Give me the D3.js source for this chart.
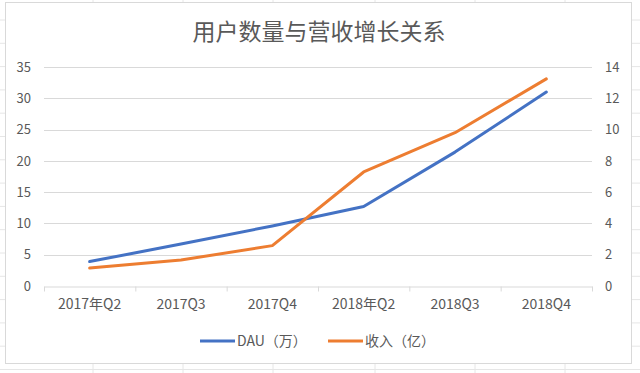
<!DOCTYPE html>
<html>
<head>
<meta charset="utf-8">
<script src="https://cdn.jsdelivr.net/npm/d3@7"></script>
<style>
  body { margin: 0; background: #fff; }
  text { font-family: "Noto Sans CJK SC", "Noto Sans", sans-serif; fill: #595959; }
</style>
</head>
<body>
<div id="chart"></div>
<script>
const width = 640;
const height = 373;

// data
const quarters = ["2017年Q2", "2017Q3", "2017Q4", "2018年Q2", "2018Q3", "2018Q4"];
const dau = [3.9, 6.7, 9.6, 12.7, 21.4, 31.0];
const revenue = [1.15, 1.66, 2.58, 7.29, 9.8, 13.24];
const leftTicks = [0, 5, 10, 15, 20, 25, 30, 35];
const rightTicks = [0, 2, 4, 6, 8, 10, 12, 14];
const seriesNames = ["DAU（万）", "收入（亿）"];
const colors = ["#4472C4", "#ED7D31"];

const margin = {top: 67, right: 48, bottom: 87, left: 44};

var svg = d3.select("#chart")
    .append("svg")
    .attr("width", width)
    .attr("height", height)

// spreadsheet grid behind the chart
const sheetCols = [93, 183, 273, 375, 475, 565];
const sheetRows = d3.range(20, height, 23.3);
svg.append("g")
    .selectAll("line.col")
    .data(sheetCols)
    .join("line")
    .attr("x1", d => d).attr("x2", d => d)
    .attr("y1", 0).attr("y2", height)
    .attr("stroke", "#e6e6e6");
svg.append("g")
    .selectAll("line.row")
    .data(sheetRows)
    .join("line")
    .attr("x1", 0).attr("x2", width)
    .attr("y1", d => d).attr("y2", d => d)
    .attr("stroke", "#e6e6e6");

// chart area
svg.append("rect")
    .attr("x", 5.5).attr("y", 2.5)
    .attr("width", 626).attr("height", 361)
    .attr("fill", "#fff")
    .attr("stroke", "#d9d9d9");

const x = d3.scaleBand()
    .domain(quarters)
    .range([margin.left, width - margin.right]);

const yLeft = d3.scaleLinear()
    .domain([0, 35])
    .range([height - margin.bottom, margin.top]);

const yRight = d3.scaleLinear()
    .domain([0, 14])
    .range([height - margin.bottom, margin.top]);

// gridlines
svg.append("g")
    .selectAll("line")
    .data(leftTicks.slice(1))
    .join("line")
    .attr("x1", margin.left).attr("x2", width - margin.right)
    .attr("y1", d => Math.round(yLeft(d)) + 0.5)
    .attr("y2", d => Math.round(yLeft(d)) + 0.5)
    .attr("stroke", "#d9d9d9");

// x axis
const xAxis = svg.append("g")
    .attr("transform", `translate(0,${Math.round(yLeft(0)) + 0.5})`)
    .call(d3.axisBottom(x).tickSize(0).tickPadding(13));
xAxis.select(".domain").attr("stroke", "#d9d9d9");
xAxis.selectAll("text").style("font-size", "14px").attr("fill", "#595959");
xAxis.selectAll("line.sep")
    .data(d3.range(quarters.length + 1))
    .join("line")
    .attr("class", "sep")
    .attr("x1", i => margin.left + i * x.step() + 0.5)
    .attr("x2", i => margin.left + i * x.step() + 0.5)
    .attr("y1", 0).attr("y2", 5)
    .attr("stroke", "#d9d9d9");

// y axes
const leftAxis = svg.append("g")
    .attr("transform", `translate(${margin.left - 13},0)`)
    .call(d3.axisLeft(yLeft).tickValues(leftTicks).tickSize(0).tickPadding(0));
leftAxis.select(".domain").remove();
leftAxis.selectAll("text").style("font-size", "13px").attr("fill", "#595959");

const rightAxis = svg.append("g")
    .attr("transform", `translate(${width - margin.right + 13},0)`)
    .call(d3.axisRight(yRight).tickValues(rightTicks).tickSize(0).tickPadding(0));
rightAxis.select(".domain").remove();
rightAxis.selectAll("text").style("font-size", "13px").attr("fill", "#595959");

// lines
const cx = d => x(d) + x.bandwidth() / 2;
const dauLine = d3.line()
    .x((d, i) => cx(quarters[i]))
    .y(d => yLeft(d));
const revLine = d3.line()
    .x((d, i) => cx(quarters[i]))
    .y(d => yRight(d));

svg.append("path")
    .datum(dau)
    .attr("d", dauLine)
    .attr("fill", "none")
    .attr("stroke", colors[0])
    .attr("stroke-width", 3)
    .attr("stroke-linejoin", "round")
    .attr("stroke-linecap", "round");

svg.append("path")
    .datum(revenue)
    .attr("d", revLine)
    .attr("fill", "none")
    .attr("stroke", colors[1])
    .attr("stroke-width", 3)
    .attr("stroke-linejoin", "round")
    .attr("stroke-linecap", "round");

// title
svg.append("text")
    .attr("x", 319)
    .attr("y", 40)
    .attr("text-anchor", "middle")
    .style("font-size", "23px")
    .text("用户数量与营收增长关系");

// legend
const legend = svg.append("g")
    .selectAll("g")
    .data(seriesNames)
    .join("g")
    .attr("transform", (d, i) => `translate(${200 + i * 128},341)`);
legend.append("line")
    .attr("x1", 0).attr("x2", 35)
    .attr("stroke", (d, i) => colors[i])
    .attr("stroke-width", 3);
legend.append("text")
    .attr("x", 37)
    .attr("dy", "0.35em")
    .style("font-size", "14px")
    .text(d => d);
</script>
</body>
</html>
